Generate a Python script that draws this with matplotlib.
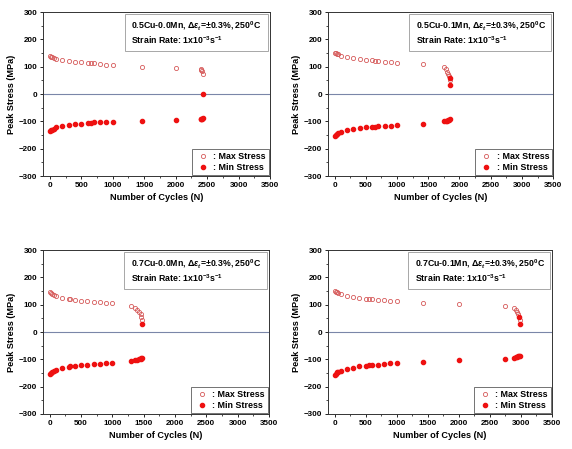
import matplotlib
matplotlib.use("Agg")
from matplotlib import pyplot as plt
from matplotlib.ticker import MultipleLocator
from matplotlib.patches import Rectangle

plt.rcParams['font.family'] = ['Liberation Sans', 'DejaVu Sans']
plt.rcParams['font.weight'] = 'bold'
plt.rcParams['mathtext.fontset'] = 'custom'
plt.rcParams['mathtext.rm'] = 'Liberation Sans:bold'
plt.rcParams['mathtext.it'] = 'Liberation Sans:italic'
plt.rcParams['mathtext.bf'] = 'Liberation Sans:bold'

# 0.5Cu-0.0Mn
n1_max = [1, 20, 40, 60, 100, 200, 300, 400, 500, 600, 650, 700, 800, 900, 1000, 1470, 2000, 2400, 2410, 2420, 2440]
s1_max = [138, 136, 134, 132, 128, 124, 120, 118, 116, 114, 112, 112, 110, 108, 106, 100, 97, 90, 87, 84, 75]
n1_min = [1, 20, 40, 60, 100, 200, 300, 400, 500, 600, 650, 700, 800, 900, 1000, 1470, 2000, 2400, 2410, 2420, 2440, 2440]
s1_min = [-137, -133, -130, -127, -122, -116, -112, -110, -108, -106, -105, -104, -103, -102, -101, -97, -94, -93, -92, -90, -88, 0]

# 0.5Cu-0.1Mn
n2_max = [1, 20, 40, 60, 100, 200, 300, 400, 500, 600, 650, 700, 800, 900, 1000, 1420, 1760, 1780, 1800, 1820, 1840, 1850]
s2_max = [151, 149, 147, 145, 140, 135, 131, 128, 126, 123, 122, 120, 118, 117, 115, 110, 98, 90, 82, 75, 65, 52]
n2_min = [1, 20, 40, 60, 100, 200, 300, 400, 500, 600, 650, 700, 800, 900, 1000, 1420, 1760, 1780, 1800, 1820, 1840, 1850, 1845, 1850]
s2_min = [-155, -150, -145, -142, -138, -132, -128, -125, -122, -120, -119, -118, -117, -116, -114, -108, -100, -98, -97, -95, -94, -93, 60, 35]

# 0.7Cu-0.0Mn
n3_max = [1, 20, 40, 60, 100, 200, 300, 330, 400, 500, 600, 700, 800, 900, 1000, 1300, 1360, 1400, 1430, 1450, 1460, 1470]
s3_max = [147, 143, 140, 137, 132, 125, 120, 120, 117, 115, 113, 111, 109, 107, 106, 95, 88, 80, 72, 65, 55, 45]
n3_min = [1, 20, 40, 60, 100, 200, 300, 330, 400, 500, 600, 700, 800, 900, 1000, 1300, 1360, 1400, 1430, 1450, 1460, 1470, 1470]
s3_min = [-155, -150, -146, -142, -138, -132, -127, -126, -124, -122, -120, -118, -116, -114, -112, -106, -103, -101, -99, -97, -96, -95, 30]

# 0.7Cu-0.1Mn
n4_max = [1, 20, 40, 60, 100, 200, 300, 400, 500, 550, 600, 700, 800, 900, 1000, 1430, 2000, 2740, 2890, 2920, 2940, 2960, 2970, 2980]
s4_max = [150, 148, 146, 143, 138, 133, 128, 125, 122, 121, 120, 118, 116, 114, 112, 108, 102, 97, 88, 80, 72, 65, 55, 45]
n4_min = [1, 20, 40, 60, 100, 200, 300, 400, 500, 550, 600, 700, 800, 900, 1000, 1430, 2000, 2740, 2890, 2920, 2940, 2960, 2970, 2980, 2975, 2980]
s4_min = [-158, -153, -148, -145, -141, -135, -130, -126, -123, -122, -121, -119, -117, -115, -113, -108, -104, -99, -95, -93, -91, -89, -88, -87, 55, 30]

titles = ['0.5Cu-0.0Mn', '0.5Cu-0.1Mn', '0.7Cu-0.0Mn', '0.7Cu-0.1Mn']
panels = [(n1_max, s1_max, n1_min, s1_min),
          (n2_max, s2_max, n2_min, s2_min),
          (n3_max, s3_max, n3_min, s3_min),
          (n4_max, s4_max, n4_min, s4_min)]

# axes rectangles in figure fractions
rects = [[0.075, 0.608, 0.397, 0.365],
         [0.573, 0.608, 0.394, 0.365],
         [0.075, 0.078, 0.395, 0.365],
         [0.573, 0.078, 0.392, 0.365]]

fig = plt.figure(figsize=(5.72, 4.49), dpi=100)

for rect, title, (nx, sx, nn, sn) in zip(rects, titles, panels):
    ax = fig.add_axes(rect)
    ax.axhline(0, color='#7a86a8', lw=0.8, zorder=1)
    ax.plot(nx, sx, 'o', ms=3.0, mfc='none', mec='#d65a5a', mew=0.6, label=': Max Stress', zorder=3)
    ax.plot(nn, sn, 'o', ms=3.0, color='#ee1111', mec='#ee1111', label=': Min Stress', zorder=3)
    ax.set_xlim(-110, 3500)
    ax.set_ylim(-300, 300)
    ax.xaxis.set_major_locator(MultipleLocator(500))
    ax.yaxis.set_major_locator(MultipleLocator(100))
    ax.yaxis.set_minor_locator(MultipleLocator(50))
    ax.xaxis.set_minor_locator(MultipleLocator(250))
    ax.tick_params(which='major', direction='out', length=2.5, width=0.6, labelsize=5.8, pad=1.5)
    ax.tick_params(which='minor', direction='out', length=1.5, width=0.5)
    for lab in ax.get_xticklabels() + ax.get_yticklabels():
        lab.set_fontweight('bold')
    for sp in ax.spines.values():
        sp.set_linewidth(0.7)
        sp.set_color('#333333')
    ax.set_xlabel('Number of Cycles (N)', fontsize=6.6, fontweight='bold', labelpad=3)
    ax.set_ylabel('Peak Stress (MPa)', fontsize=6.6, fontweight='bold', labelpad=2)

    # condition box
    ax.add_patch(Rectangle((0.36, 0.765), 0.63, 0.225, transform=ax.transAxes,
                           fc='white', ec='#999999', lw=0.6, zorder=4))
    ax.text(0.39, 0.92, title + r', $\it{\Delta\epsilon_t}$=±0.3%, 250$^0$C',
            transform=ax.transAxes, fontsize=6.3, fontweight='bold', va='center', zorder=5)
    ax.text(0.39, 0.83, r'Strain Rate: 1x10$^{-3}$s$^{-1}$',
            transform=ax.transAxes, fontsize=6.3, fontweight='bold', va='center', zorder=5)

    leg = ax.legend(loc='lower right', fontsize=6.4, frameon=True, fancybox=False,
                    borderaxespad=0.15, handletextpad=0.3, handlelength=1.8,
                    borderpad=0.3, labelspacing=0.25)
    leg.get_frame().set_edgecolor('#333333')
    leg.get_frame().set_linewidth(0.6)
    for t in leg.get_texts():
        t.set_fontweight('bold')

fig.savefig('out.png', dpi=100)
